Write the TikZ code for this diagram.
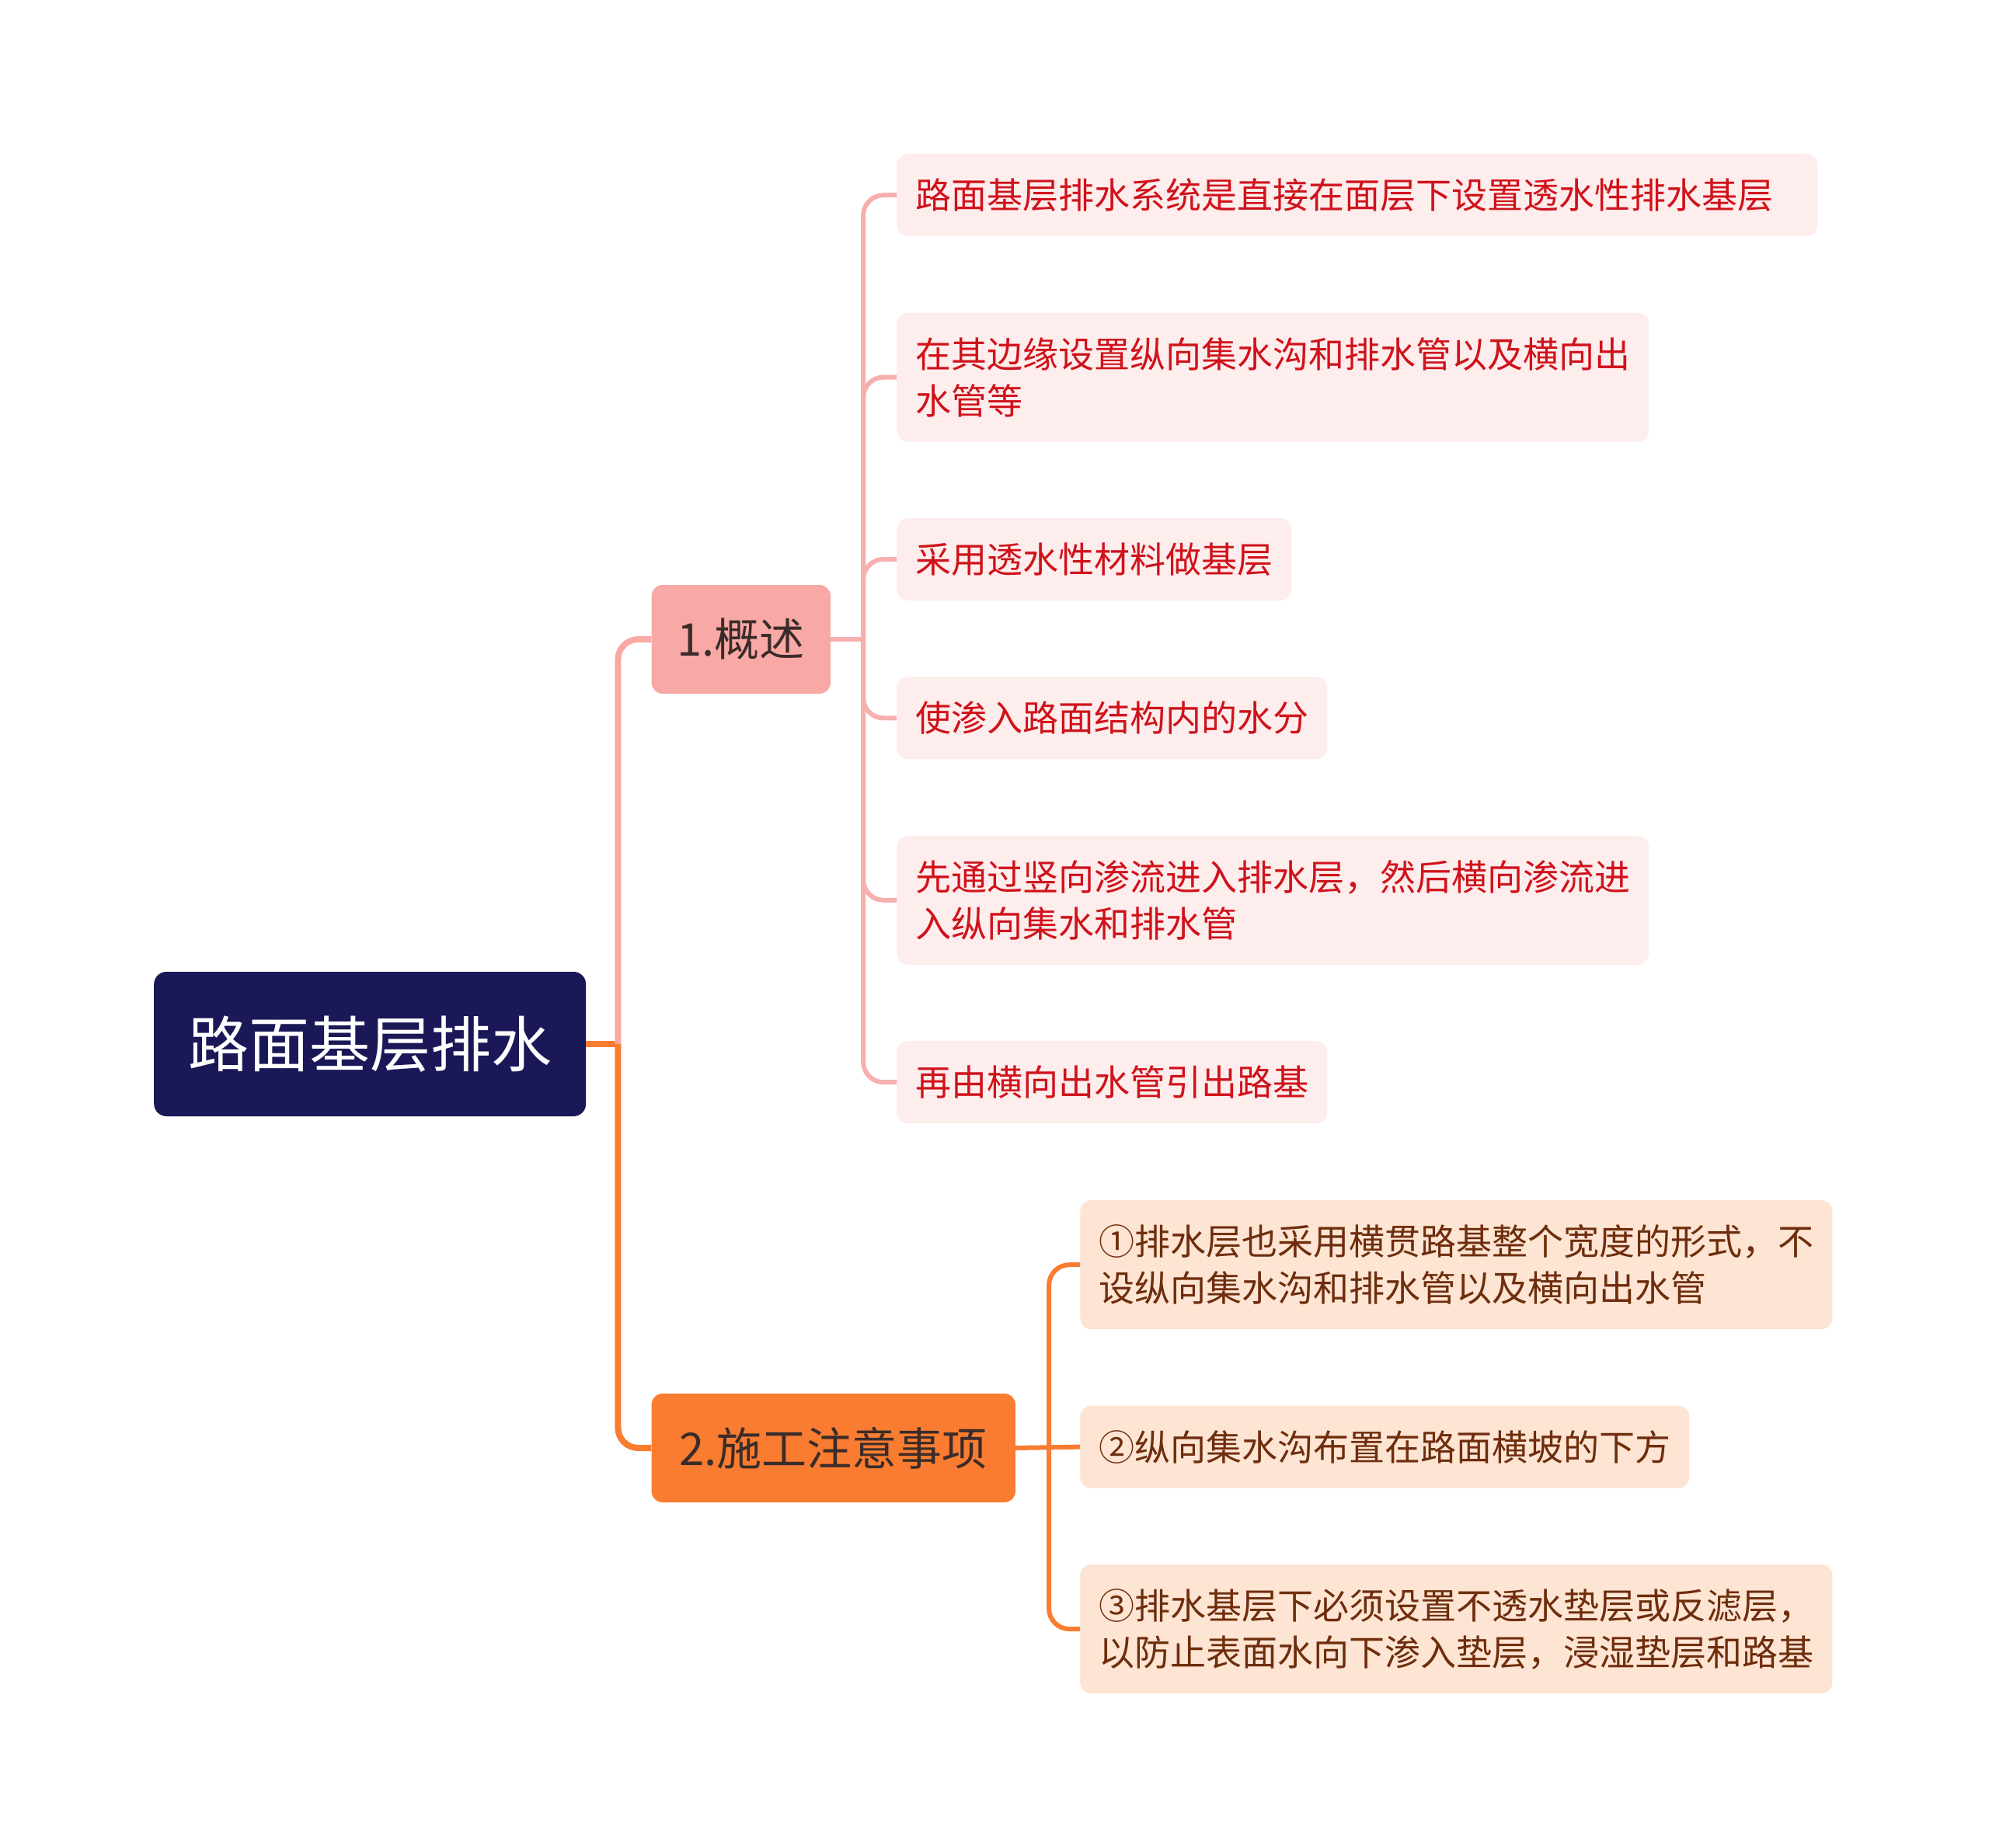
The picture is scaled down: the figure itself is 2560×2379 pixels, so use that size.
\documentclass[tikz,border=0pt]{standalone}
\usepackage{fontspec}
\setmainfont{Noto Sans CJK SC}
\usetikzlibrary{positioning}
\definecolor{pmnuit}{HTML}{1B1857}
\definecolor{pmrose}{HTML}{F9A9A5}
\definecolor{pmrosetrait}{HTML}{F6B0AE}
\definecolor{pmrosepale}{HTML}{FDEDEC}
\definecolor{pmrouge}{HTML}{D0121B}
\definecolor{pmorange}{HTML}{F97C31}
\definecolor{pmorangepale}{HTML}{FDE4D3}
\definecolor{pmbrun}{HTML}{6E2D0C}
\definecolor{pmdark}{HTML}{3A2C2A}

\begin{document}
\begin{tikzpicture}[
  node distance=98pt and 84pt,
  racine/.style={rectangle,rounded corners=16pt,fill=pmnuit,text=white,
    inner xsep=44pt,minimum height=186pt,font=\fontsize{78}{90}\selectfont},
  theme/.style={rectangle,rounded corners=14pt,inner xsep=33pt,
    minimum height=140pt,text=pmdark,font=\fontsize{58}{70}\selectfont},
  feuille/.style={rectangle,rounded corners=14pt,inner xsep=24pt,
    minimum height=106pt,align=left,font=\fontsize{46}{60}\selectfont},
  frose/.style={feuille,fill=pmrosepale,text=pmrouge},
  forange/.style={feuille,fill=pmorangepale,text=pmbrun},
  haut/.style={minimum height=166pt},
  lien/.style={line width=8pt,rounded corners=26pt},
  branche/.style={line width=6pt,rounded corners=26pt}]
  \useasboundingbox (0,0) rectangle (2560pt,-2379pt);
  % noeud central et themes
  \node[racine,anchor=west] (root) at (198pt,-1344pt) {路面基层排水};
  \node[theme,fill=pmrose,above right=521pt and 84pt of root.east,anchor=west] (apercu) {1.概述};
  \node[theme,fill=pmorange,inner xsep=36pt,below right=520pt and 84pt of root.east,anchor=west] (travaux) {2.施工注意事项};
  % feuilles du theme 1
  \node[frose,text width=1137pt,above right=625pt and 85pt of apercu.east,anchor=north west] (a1) {路面基层排水系统是直接在面层下设置透水性排水基层};
  \node[frose,haut,below=of a1.south west,anchor=north west] (a2) {在其边缘设置纵向集水沟和排水管以及横向出\\水管等};
  \node[frose,below=of a2.south west,anchor=north west] (a3) {采用透水性材料做基层};
  \node[frose,below=of a3.south west,anchor=north west] (a4) {使渗入路面结构内的水分};
  \node[frose,haut,below=of a4.south west,anchor=north west] (a5) {先通过竖向渗流进入排水层，然后横向渗流进\\入纵向集水和排水管};
  \node[frose,below=of a5.south west,anchor=north west] (a6) {再由横向出水管引出路基};
  % feuilles du theme 2
  \node[forange,haut,above right=319pt and 83pt of travaux.east,anchor=north west] (b1) {①排水层也采用横贯路基整个宽度的形式，不\\设纵向集水沟和排水管以及横向出水管};
  \node[forange,below=of b1.south west,anchor=north west] (b2) {②纵向集水沟布置在路面横坡的下方};
  \node[forange,haut,below=of b2.south west,anchor=north west] (b3) {③排水基层下必须设置不透水垫层或反滤层，\\以防止表面水向下渗入垫层，浸湿垫层和路基};
  % liaisons racine -> themes
  \coordinate[right=41pt of root.east] (jr);
  \draw[lien,pmorange] (root.east) -- (jr);
  \draw[lien,pmrose] (jr) |- (apercu.west);
  \draw[lien,pmorange] (jr) |- (travaux.west);
  % liaisons theme 1
  \coordinate[right=42pt of apercu.east] (ja);
  \draw[branche,pmrosetrait] (apercu.east) -- (ja);
  \foreach \f in {a1,a2,a3,a4,a5,a6}
    \draw[branche,pmrosetrait] (ja) |- (\f.west);
  % liaisons theme 2
  \coordinate[right=43pt of travaux.east] (jt);
  \draw[branche,pmorange] (travaux.east) -- (b2.west);
  \draw[branche,pmorange] (jt) |- (b1.west);
  \draw[branche,pmorange] (jt) |- (b3.west);
\end{tikzpicture}
\end{document}
